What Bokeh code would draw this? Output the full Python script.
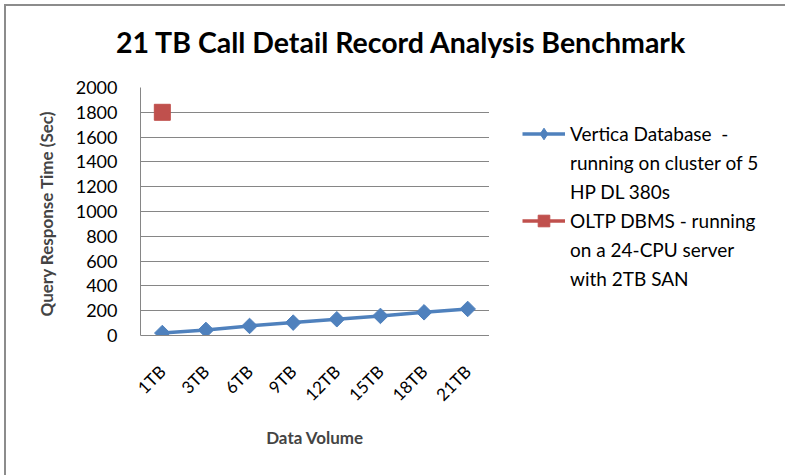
import math
from bokeh.plotting import figure
from bokeh.layouts import column, row
from bokeh.models import Range1d, FactorRange, Legend, LegendItem, Label
from bokeh.embed import file_html
from bokeh.resources import INLINE

# ---- data ----
categories = ["1TB", "3TB", "6TB", "9TB", "12TB", "15TB", "18TB", "21TB"]
vertica = [20, 45, 77, 104, 131, 158, 187, 214]
oltp_categories = ["1TB"]
oltp = [1800]
y_ticks = [0, 200, 400, 600, 800, 1000, 1200, 1400, 1600, 1800, 2000]
vertica_legend = ["Vertica Database  -", "running on cluster of 5", "HP DL 380s"]
oltp_legend = ["OLTP DBMS - running", "on a 24-CPU server", "with 2TB SAN"]
title_text = "21 TB Call Detail Record Analysis Benchmark"
x_title = "Data Volume"
y_title = "Query Response Time  (Sec)"

FONT = "Lato"
BLUE = "#4F81BD"
RED = "#C0504D"
GRID = "#868686"

# ---------------- title strip ----------------
tfig = figure(width=779, height=69, x_range=Range1d(0, 1), y_range=Range1d(0, 1),
              output_backend="svg", toolbar_location=None,
              x_axis_location=None, y_axis_location=None, min_border=0)
tfig.outline_line_color = None
tfig.grid.visible = False
tfig.add_layout(Label(x=395, y=34, x_units="screen", y_units="screen", text=title_text,
                      text_align="center", text_baseline="middle",
                      text_font=FONT, text_font_style="bold", text_font_size="28.5px",
                      text_color="black"))

# ---------------- chart ----------------
p = figure(
    width=483, height=400,
    x_range=FactorRange(factors=categories),
    y_range=Range1d(0, 2000),
    output_backend="svg", toolbar_location=None,
    min_border_left=134, min_border_right=0,
    min_border_top=12, min_border_bottom=140,
)
p.outline_line_color = None
p.xgrid.visible = False
p.ygrid.grid_line_color = GRID
p.ygrid.grid_line_width = 1

p.yaxis.ticker = y_ticks
p.yaxis.axis_line_color = GRID
p.yaxis.major_tick_line_color = None
p.yaxis.minor_tick_line_color = None
p.yaxis.major_label_standoff = 17
p.yaxis.major_label_text_font = FONT
p.yaxis.major_label_text_font_size = "18px"
p.yaxis.major_label_text_color = "black"
p.yaxis.axis_label = y_title
p.yaxis.axis_label_text_font = FONT
p.yaxis.axis_label_text_font_style = "bold"
p.yaxis.axis_label_text_font_size = "17px"
p.yaxis.axis_label_standoff = 16

p.xaxis.axis_line_color = GRID
p.xaxis.major_tick_line_color = None
p.xaxis.minor_tick_line_color = None
p.xaxis.major_label_orientation = math.pi / 4
p.xaxis.major_label_standoff = 27
p.xaxis.major_label_text_font = FONT
p.xaxis.major_label_text_font_size = "17px"
p.xaxis.major_label_text_color = "black"
p.xaxis.axis_label = x_title
p.xaxis.axis_label_text_font = FONT
p.xaxis.axis_label_text_font_style = "bold"
p.xaxis.axis_label_text_font_size = "17px"
p.xaxis.axis_label_standoff = 12

p.line(categories, vertica, line_color=BLUE, line_width=3.5)
p.scatter(categories, vertica, marker="square", angle=math.pi / 4, size=11,
          fill_color=BLUE, line_color=BLUE)
p.scatter(oltp_categories, oltp, marker="square", size=16,
          fill_color=RED, line_color=RED)

# ---------------- legend panel ----------------
# same series, drawn on a y range that excludes them, so only the legend keys show
lfig = figure(width=292, height=400, x_range=FactorRange(factors=categories),
              y_range=Range1d(-1000, -900),
              output_backend="svg", toolbar_location=None,
              x_axis_location=None, y_axis_location=None, min_border=0)
lfig.outline_line_color = None
lfig.grid.visible = False
k_vl = lfig.line(categories, vertica, line_color=BLUE, line_width=3.5)
k_vs = lfig.scatter(categories, vertica, marker="diamond", fill_color=BLUE, line_color=BLUE)
k_ol = lfig.line(oltp_categories, oltp, line_color=RED, line_width=3.5)
k_os = lfig.scatter(oltp_categories, oltp, marker="square", fill_color=RED, line_color=RED)
blank = lfig.scatter(x=[], y=[], size=0, fill_alpha=0, line_alpha=0)

items = [LegendItem(label=vertica_legend[0], renderers=[k_vl, k_vs])]
items += [LegendItem(label=t, renderers=[blank]) for t in vertica_legend[1:]]
items += [LegendItem(label=oltp_legend[0], renderers=[k_ol, k_os])]
items += [LegendItem(label=t, renderers=[blank]) for t in oltp_legend[1:]]

legend = Legend(
    items=items, location=(33, 42),
    glyph_width=43, glyph_height=29, label_height=29, label_standoff=5,
    spacing=0, padding=0, margin=0,
    border_line_alpha=0, background_fill_alpha=0,
    label_text_font=FONT, label_text_font_size="19px", label_text_color="black",
)
lfig.add_layout(legend, "center")

layout = column(
    tfig, row(p, lfig),
    styles={"border-left": "2px solid #8c8c8c", "border-top": "2px solid #8c8c8c",
            "margin-left": "4px", "margin-top": "4px"},
)

open("out.html", "w").write(file_html(layout, INLINE))
